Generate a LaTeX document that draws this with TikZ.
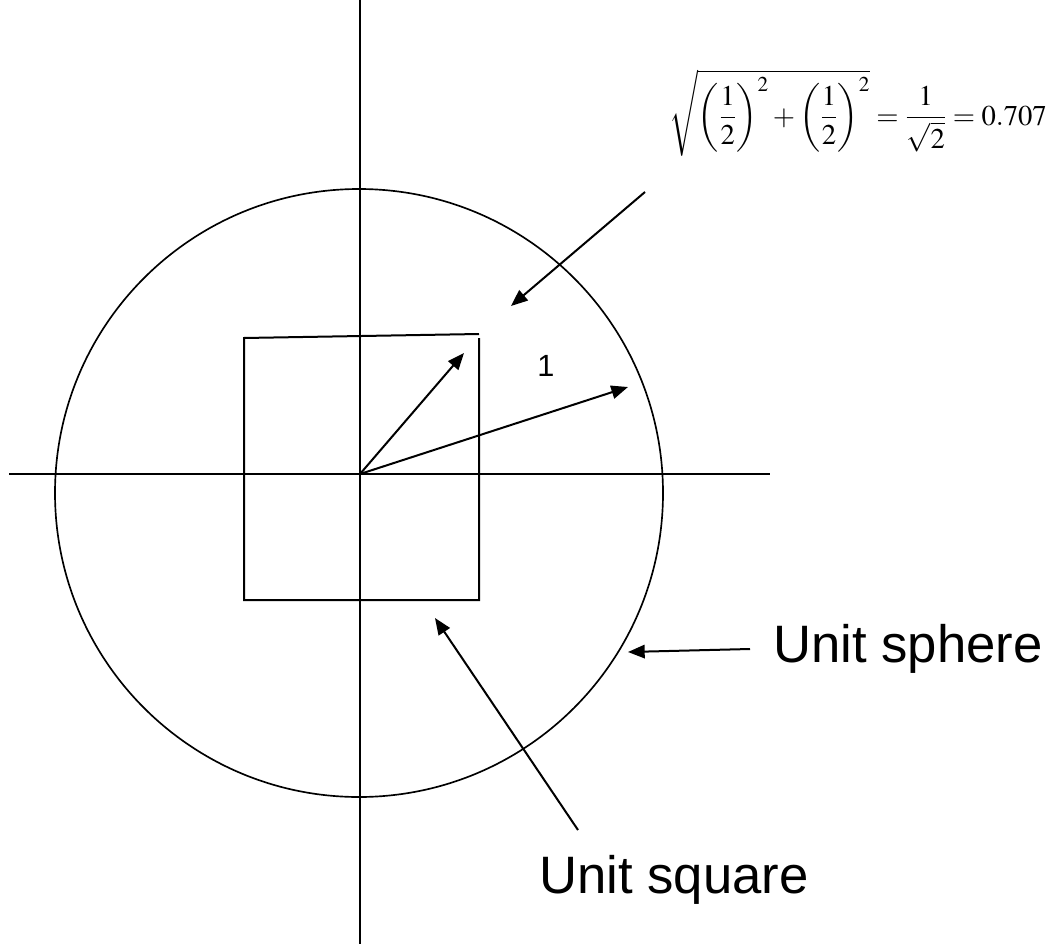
\documentclass[tikz,border=0pt]{standalone}
\usepackage{amsmath}
\usepackage{mathptmx}
\usepackage{fontspec}
\setmainfont{Liberation Serif}
\setsansfont{Liberation Sans}
\usetikzlibrary{arrows.meta,positioning,calc}

\tikzset{
    axisline/.style={line width=1.5pt},
    vecarrow/.style={line width=1.5pt, -{Triangle[length=12.5pt,width=10pt]}},
    bigtext/.style={font=\sffamily\fontsize{39.5}{44}\selectfont, inner sep=0pt},
}

\begin{document}
\begin{tikzpicture}[x=0.75pt, y=-0.75pt]
    \useasboundingbox (0,0) rectangle (1049,949);
    \coordinate (O) at (360,474);

    % axes
    \draw[axisline] (360,0) -- (360,944);
    \draw[axisline] (9,474) -- (770,474);

    % unit sphere
    \draw[line width=1.25pt] (359,493) circle [radius=304];

    % unit square
    \draw[axisline] (479,338) -- (479,600) -- (244,600) -- (244,338) -- (479,334);

    % vectors
    \coordinate (corner) at (464,353);
    \coordinate (rim) at (628,387);
    \draw[vecarrow] (O) -- (corner);
    \draw[vecarrow] (O) -- (rim);
    \node[font=\sffamily\fontsize{23}{26}\selectfont, inner sep=0pt] (one) at (546,366) {1};

    % labels
    \node[font=\fontsize{21.5}{25}\selectfont, inner sep=0pt] (pyth) at (858,113)
        {$\sqrt{\left(\dfrac{1}{2}\right)^{2}+\left(\dfrac{1}{2}\right)^{2}}=\dfrac{1}{\sqrt{2}}=0.707$};
    \node[bigtext, anchor=base west] (sph) at (773,662) {Unit sphere};
    \node[bigtext, anchor=base] (sqr) at (674,893) {Unit square};

    % callout arrows
    \coordinate (pythtail) at (645,192);
    \coordinate (pythtip) at (511,306);
    \coordinate (sphtail) at (750,649);
    \coordinate (sphtip) at (628,652);
    \coordinate (sqrtail) at (578,830);
    \coordinate (sqrtip) at (435,618);
    \draw[vecarrow] (pythtail) -- (pythtip);
    \draw[vecarrow] (sphtail) -- (sphtip);
    \draw[vecarrow] (sqrtail) -- (sqrtip);
\end{tikzpicture}
\end{document}
